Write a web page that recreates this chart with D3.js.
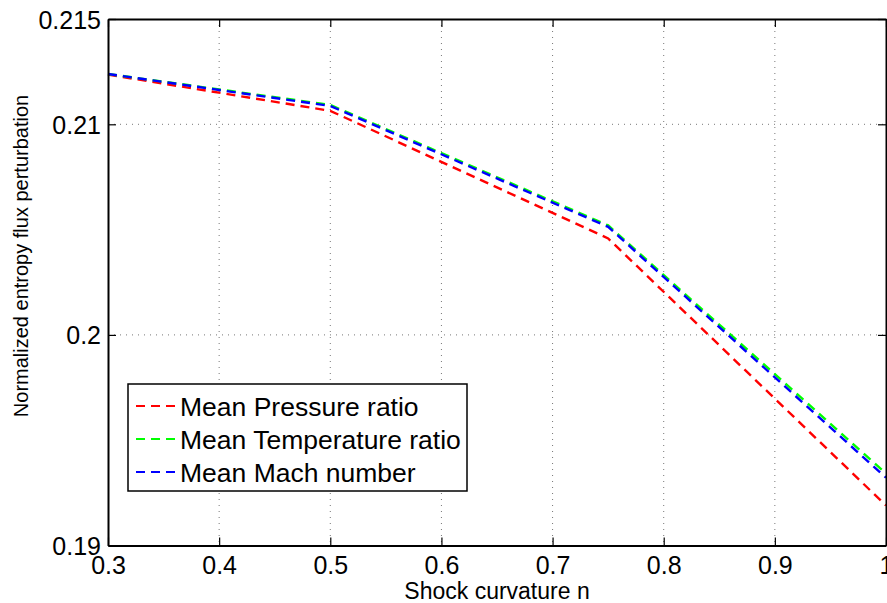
<!DOCTYPE html>
<html>
<head>
<meta charset="utf-8">
<script src="https://cdn.jsdelivr.net/npm/d3@7"></script>
<style>
  html, body { margin: 0; padding: 0; background: #fff; }
  svg { display: block; font-family: "Liberation Sans", Arial, Helvetica, sans-serif; }
</style>
</head>
<body>
<svg id="chart" width="887" height="603"></svg>
<script>
// ---- data ----
const curvature = [0.3, 0.5, 0.75, 1.0];
const meanPressure    = [0.21236, 0.21064, 0.20458, 0.19190];
const meanTemperature = [0.21239, 0.21092, 0.20520, 0.19342];
const meanMach        = [0.21239, 0.21087, 0.20513, 0.19322];
const seriesNames  = ["Mean Pressure ratio", "Mean Temperature ratio", "Mean Mach number"];
const seriesColors = ["#ff0000", "#00ff00", "#0000ff"];
const xTicks = [0.3, 0.4, 0.5, 0.6, 0.7, 0.8, 0.9, 1];
const yTicks = [0.19, 0.2, 0.21, 0.215];
const xTickLabels = ["0.3", "0.4", "0.5", "0.6", "0.7", "0.8", "0.9", "1"];
const yTickLabels = ["0.19", "0.2", "0.21", "0.215"];
const xLabel = "Shock curvature n";
const yLabel = "Normalized entropy flux perturbation";

const series = [meanPressure, meanTemperature, meanMach];

// ---- layout ----
const L = 108, R = 886, T = 19, B = 545.5;
const svg = d3.select("#chart");
const x = d3.scaleLinear().domain([0.3, 1]).range([L, R]);
const y = d3.scaleLinear().domain([0.19, 0.215]).range([B, T]);

// grid
const grid = svg.append("g");
grid.selectAll("line.gx").data(xTicks.slice(1, -1)).enter().append("line")
  .attr("x1", d => x(d)).attr("x2", d => x(d)).attr("y1", T).attr("y2", B)
  .attr("stroke", "#777").attr("stroke-width", 1).attr("stroke-dasharray", "1,5");
grid.selectAll("line.gy").data(yTicks.slice(1, -1)).enter().append("line")
  .attr("y1", d => y(d)).attr("y2", d => y(d)).attr("x1", L).attr("x2", R)
  .attr("stroke", "#777").attr("stroke-width", 1).attr("stroke-dasharray", "1,5");

// lines
const line = d3.line().x((d, i) => x(curvature[i])).y(d => y(d));
series.forEach((s, k) => {
  svg.append("path").datum(s).attr("d", line)
    .attr("fill", "none").attr("stroke", seriesColors[k])
    .attr("stroke-width", 2.4).attr("stroke-dasharray", "9,6");
});

// axes (inward ticks on all four sides)
const tickLen = 8;
const fmtX = (d, i) => xTickLabels[i];
const fmtY = (d, i) => yTickLabels[i];
const axB = svg.append("g").attr("transform", `translate(0,${B})`)
  .call(d3.axisBottom(x).tickValues(xTicks).tickFormat(fmtX).tickSizeInner(-tickLen).tickSizeOuter(0).tickPadding(11));
const axT = svg.append("g").attr("transform", `translate(0,${T})`)
  .call(d3.axisTop(x).tickValues(xTicks).tickFormat("").tickSizeInner(-tickLen).tickSizeOuter(0));
const axLf = svg.append("g").attr("transform", `translate(${L},0)`)
  .call(d3.axisLeft(y).tickValues(yTicks).tickFormat(fmtY).tickSizeInner(-tickLen).tickSizeOuter(0).tickPadding(7));
const axRt = svg.append("g").attr("transform", `translate(${R},0)`)
  .call(d3.axisRight(y).tickValues(yTicks).tickFormat("").tickSizeInner(-tickLen).tickSizeOuter(0));

[axB, axT, axLf, axRt].forEach(a => {
  a.select(".domain").attr("stroke", "#000").attr("stroke-width", 2);
  a.selectAll(".tick line").attr("stroke", "#000").attr("stroke-width", 1.2);
  a.selectAll("text").attr("font-family", '"Liberation Sans", Arial, sans-serif')
    .attr("font-size", 25).attr("fill", "#000");
});
axB.selectAll("text").attr("dy", "0.71em");
axLf.selectAll("text").attr("dy", "0.36em");

// axis labels
svg.append("text").attr("x", (L + R) / 2).attr("y", 599)
  .attr("text-anchor", "middle").attr("font-size", 23).text(xLabel);
svg.append("text").attr("transform", `translate(28,256) rotate(-90)`)
  .attr("text-anchor", "middle").attr("font-size", 20).text(yLabel);

// legend
const lg = svg.append("g");
lg.append("rect").attr("x", 128).attr("y", 384).attr("width", 339).attr("height", 107)
  .attr("fill", "#fff").attr("stroke", "#000").attr("stroke-width", 1.5);
const rowY = [406, 439, 472];
seriesNames.forEach((n, k) => {
  lg.append("line").attr("x1", 136).attr("x2", 176).attr("y1", rowY[k]).attr("y2", rowY[k])
    .attr("stroke", seriesColors[k]).attr("stroke-width", 2).attr("stroke-dasharray", "9,6");
  lg.append("text").attr("x", 180).attr("y", rowY[k]).attr("dy", "0.36em")
    .attr("font-size", 26.5).text(n);
});
</script>
</body>
</html>
